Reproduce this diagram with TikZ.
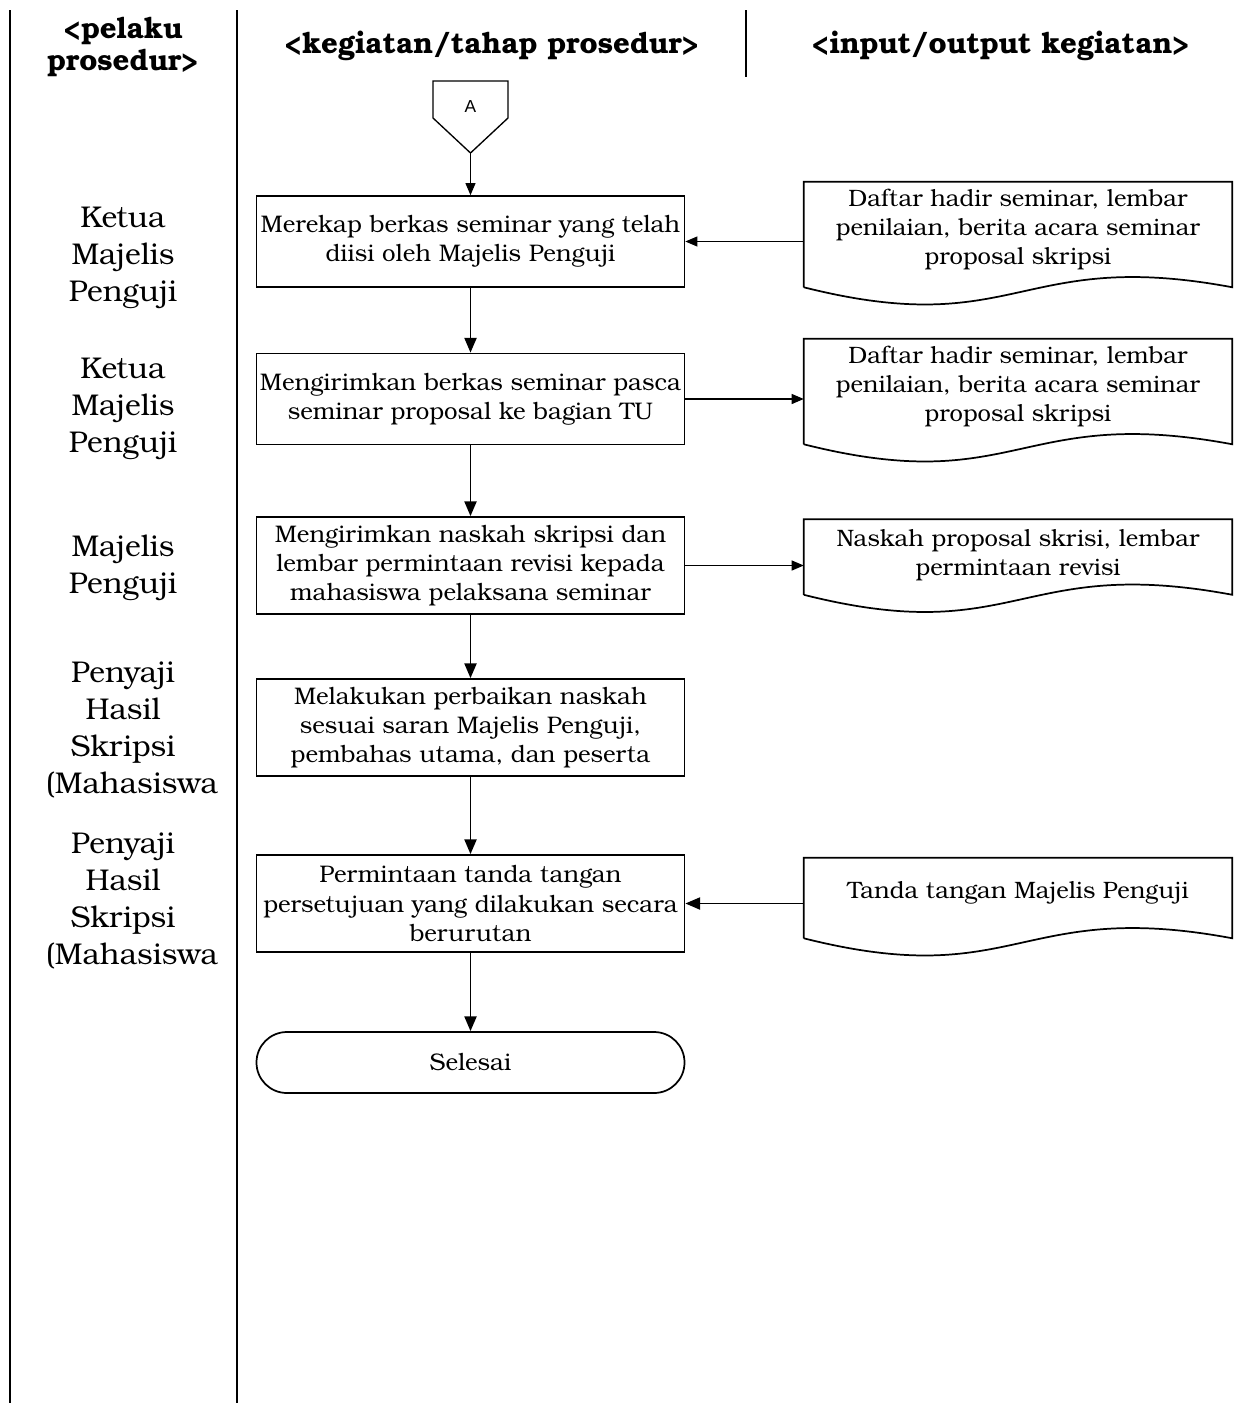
\documentclass[tikz,border=0pt]{standalone}
\usepackage{fontspec}
\setmainfont{TeX Gyre Bonum}
\newfontfamily\connfont{Liberation Sans}
\usetikzlibrary{arrows.meta,calc}

\tikzset{
  lane/.style={line width=2.2pt},
  stepbox/.style={draw, line width=1.3pt, minimum width=321pt, minimum height=#1,
    align=center, inner sep=2pt, font=\fontsize{18}{22}\selectfont},
  endbox/.style={draw, line width=1.3pt, rounded corners=22.8pt, minimum width=321pt,
    minimum height=#1, font=\fontsize{18}{20.5}\selectfont},
  docbody/.style={minimum width=321pt, minimum height=#1, inner sep=0pt},
  doctext/.style={align=center, font=\fontsize{17.8}{21.75}\selectfont},
  docline/.style={line width=1.3pt, line join=miter},
  actor/.style={align=center, font=\fontsize{22.5}{27.75}\selectfont},
  head/.style={align=center, font=\bfseries\fontsize{22}{24}\selectfont},
  flow/.style={-{Triangle[length=11pt,width=9pt]}, line width=1.4pt},
  thinflow/.style={-{Triangle[length=9pt,width=7.5pt]}, line width=0.8pt},
}

% document symbol: straight top and sides, wavy bottom
\newcommand{\docoutline}[1]{%
  \draw[docline] (#1.south west) -- (#1.north west) -- (#1.north east) -- (#1.south east)
    .. controls ($(#1.south)+(0,-40)$) and ($(#1.south)+(0,54)$) .. (#1.south west);}

\begin{document}
\begin{tikzpicture}[x=0.75pt,y=-0.75pt]
\useasboundingbox (0,0) rectangle (1248,1403);

% swimlane separators
\draw[lane] (10,10) -- (10,1403);
\draw[lane] (237,10) -- (237,1403);
\draw[lane] (746,10) -- (746,77);

% column headings
\node[head] (h1) at (123,47) {<pelaku\\prosedur>};
\node[head] (h2) at (492,46) {<kegiatan/tahap prosedur>};
\node[head] (h3) at (1001,46) {<input/output kegiatan>};

% actors
\node[actor] (a1) at (123,258) {Ketua\\Majelis\\Penguji};
\node[actor] (a2) at (123,409) {Ketua\\Majelis\\Penguji};
\node[actor] (a3) at (123,568) {Majelis\\Penguji};
\node[actor] (a4) at (123,730) {Penyaji\\Hasil\\Skripsi\\\hspace*{13.5pt}(Mahasiswa};
\node[actor] (a5) at (123,901) {Penyaji\\Hasil\\Skripsi\\\hspace*{13.5pt}(Mahasiswa};

% off-page connector
\draw[line width=1pt] (433,81) -- (508,81) -- (508,118) -- (470.5,153) -- (433,118) -- cycle;
\node[font=\connfont\fontsize{13}{15}\selectfont] (conA) at (470.5,107) {A};
\coordinate (Atip) at (470.5,153);

% process steps
\node[stepbox=68.25pt] (b1) at (470.5,241.5) {Merekap berkas seminar yang telah\\diisi oleh Majelis Penguji};
\node[stepbox=68.25pt] (b2) at (470.5,399) {Mengirimkan berkas seminar pasca\\seminar proposal ke bagian TU};
\node[stepbox=72.75pt] (b3) at (470.5,565.5) {Mengirimkan naskah skripsi dan\\lembar permintaan revisi kepada\\mahasiswa pelaksana seminar};
\node[stepbox=72.75pt] (b4) at (470.5,727.5) {Melakukan perbaikan naskah\\sesuai saran Majelis Penguji,\\pembahas utama, dan peserta};
\node[stepbox=72.75pt] (b5) at (470.5,903.5) {Permintaan tanda tangan\\persetujuan yang dilakukan secara\\berurutan};
\node[endbox=45.75pt] (b6) at (470.5,1062.5) {Selesai};

% documents
\node[docbody=78.75pt] (d1) at (1018,234.5) {};
\node[doctext] (d1t) at (1018,229) {Daftar hadir seminar, lembar\\penilaian, berita acara seminar\\proposal skripsi};
\docoutline{d1}
\node[docbody=78.75pt] (d2) at (1018,391.5) {};
\node[doctext] (d2t) at (1018,386) {Daftar hadir seminar, lembar\\penilaian, berita acara seminar\\proposal skripsi};
\docoutline{d2}
\node[docbody=56.25pt] (d3) at (1018,557) {};
\node[doctext] (d3t) at (1018,555) {Naskah proposal skrisi, lembar\\permintaan revisi};
\docoutline{d3}
\node[docbody=60pt] (d4) at (1018,898) {};
\node[doctext] (d4t) at (1018,893) {Tanda tangan Majelis Penguji};
\docoutline{d4}

% flow
\draw[thinflow] (Atip) -- (b1.north);
\draw[flow] (b1) -- (b2);
\draw[flow] (b2) -- (b3);
\draw[flow] (b3) -- (b4);
\draw[flow] (b4) -- (b5);
\draw[flow] (b5) -- (b6);

% inputs and outputs
\draw[thinflow] (d1.west |- b1.east) -- (b1.east);
\draw[thinflow] (b2.east) -- (b2.east -| d2.west);
\draw[thinflow] (b3.east) -- (b3.east -| d3.west);
\draw[flow] (d4.west |- b5.east) -- (b5.east);
\end{tikzpicture}
\end{document}
